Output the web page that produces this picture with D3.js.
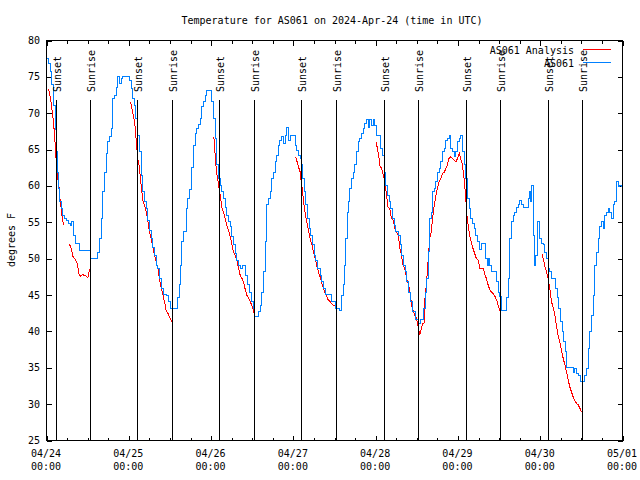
<!DOCTYPE html>
<html><head><meta charset="utf-8">
<script src="https://cdn.jsdelivr.net/npm/d3@7"></script>
<style>
body{margin:0;background:#fff}
svg text{font-family:"DejaVu Sans Mono","Liberation Mono",monospace;font-size:10px;fill:#000}
</style>
</head><body>
<svg id="chart" width="640" height="480"></svg>
<script>
const chartTitle = "Temperature for AS061 on 2024-Apr-24 (time in UTC)";
const yAxisLabel = "degrees F";
const seriesNames = ["AS061 Analysis", "AS061"];
const seriesColors = ["#ff0000", "#0080ff"];
const yTickValues = [25, 30, 35, 40, 45, 50, 55, 60, 65, 70, 75, 80];
const dayTickLabels = ["04/24", "04/25", "04/26", "04/27", "04/28", "04/29", "04/30", "05/01"];
const timeTickLabel = "00:00";
const sunsetTimes = ["2024-04-24 02:48", "2024-04-25 02:39", "2024-04-26 02:33", "2024-04-27 02:30", "2024-04-28 02:39", "2024-04-29 02:36", "2024-04-30 02:30"];
const sunriseTimes = ["2024-04-24 12:56", "2024-04-25 12:45", "2024-04-26 12:45", "2024-04-27 12:41", "2024-04-28 12:36", "2024-04-29 12:30", "2024-04-30 12:25"];

// AS061 observations: hours since 2024-04-24 00:00 UTC and temperature (F)
const obsHours = [0,0.6,1.2,1.6,2.1,2.5,2.8,3.1,3.5,3.9,4.3,4.8,5.2,5.7,6.4,7.0,7.4,7.8,8.4,9.1,9.7,12.1,12.7,14.2,14.8,15.5,15.9,16.4,16.9,17.4,17.9,18.4,18.9,19.3,19.8,20.3,20.8,21.3,21.8,22.3,23.7,24.2,24.7,25.2,25.7,26.1,26.6,27.1,27.6,28.1,28.6,29.1,29.5,30.0,30.5,31.0,31.5,32.0,32.5,32.9,33.4,34.1,34.9,35.6,36.2,37.8,38.3,38.8,39.1,39.5,40.0,40.7,41.2,41.8,42.3,42.9,43.4,43.8,44.3,44.8,45.3,45.8,46.3,46.8,47.7,48.2,48.7,49.2,49.7,50.2,50.7,51.1,51.6,52.1,52.6,53.1,53.6,54.1,54.5,55.0,55.5,56.0,56.5,57.2,57.7,58.1,58.6,59.1,59.7,60.4,60.7,61.3,61.8,62.3,62.8,63.3,63.8,64.3,64.7,65.2,65.7,66.2,66.7,67.2,67.7,68.1,68.6,69.1,69.6,70.1,70.6,71.1,72.0,72.5,73.0,73.5,74.0,74.5,74.8,75.2,75.6,76.1,76.6,77.1,77.6,78.2,78.6,79.1,79.8,80.3,80.8,81.5,82.7,83.2,84.2,85.6,86.0,86.5,86.9,87.3,87.7,88.1,88.5,89.0,89.4,89.9,90.4,90.9,91.4,91.9,92.4,92.8,93.3,93.8,94.3,94.8,95.3,95.8,96.2,97.0,97.5,98.0,98.5,99.0,99.5,99.9,100.4,100.9,101.4,101.9,102.6,103.2,103.6,104.1,104.6,105.1,105.6,106.1,106.7,107.5,108.5,109.2,109.9,110.4,110.9,111.4,111.8,112.2,112.6,113.1,113.5,114.0,114.5,115.0,115.5,116.0,116.5,116.9,117.4,117.9,118.4,118.9,119.4,119.9,120.4,120.8,121.3,121.8,122.3,122.8,123.3,123.8,124.2,124.7,125.2,125.7,126.4,126.9,127.6,128.1,128.5,128.9,129.3,129.8,130.8,131.3,131.8,132.2,132.6,132.8,133.7,134.2,134.7,135.1,135.6,136.1,136.6,137.1,137.6,138.1,138.5,139.0,140.0,140.5,141.0,141.3,141.6,141.9,142.3,142.7,143.1,143.6,143.9,144.4,144.9,145.3,145.8,146.3,146.8,147.3,148.0,148.5,148.9,149.4,149.9,150.4,150.9,151.3,151.7,152.4,153.1,153.6,154.1,154.6,155.1,155.7,156.5,157.0,157.5,158.0,158.5,159.0,159.4,159.9,160.4,160.9,161.4,161.9,162.4,162.8,163.3,163.8,164.3,164.8,165.3,165.8,166.2,166.7,167.2,167.7,168.0];
const obsTemps = [77.5,76.8,75.7,73.9,71.1,67.7,64.7,61.9,59.7,57.8,56.9,56.0,55.5,55.3,54.8,54.6,55.1,53.2,52.1,52.1,51.1,51.1,50.0,50.0,50.9,52.8,55.5,59.2,61.9,64.5,66.1,66.8,67.9,72.0,72.5,73.6,75.0,74.1,74.8,75.1,75.1,74.5,73.4,72.0,71.1,69.3,67.0,64.7,61.5,59.2,57.8,56.9,55.3,53.9,52.8,51.6,50.5,49.1,48.7,47.3,45.9,45.1,45.0,44.1,43.1,43.1,44.6,46.4,49.1,52.3,53.7,56.9,58.3,59.5,62.5,65.6,67.2,67.9,68.4,69.3,70.9,71.6,72.5,73.1,73.1,71.6,69.3,66.5,62.9,61.0,60.1,59.2,58.3,57.1,56.0,55.1,54.4,53.0,51.9,50.7,49.8,49.1,48.7,49.0,49.0,47.7,46.4,45.4,44.1,43.2,42.0,42.0,42.7,43.6,45.4,48.2,52.3,57.4,58.3,59.2,61.0,61.9,63.3,64.2,65.6,66.3,66.8,65.8,67.0,68.1,66.3,67.0,67.0,65.6,64.9,64.2,63.8,62.9,61.0,59.2,57.4,55.5,54.2,53.2,51.9,50.5,49.8,48.7,47.7,46.8,45.9,45.1,45.1,44.1,43.1,42.9,45.0,46.4,49.1,52.8,56.4,57.8,59.7,61.0,61.9,62.9,64.7,66.1,66.5,67.2,67.9,68.6,69.1,68.1,69.1,68.3,69.1,68.3,67.0,67.0,65.2,64.2,61.9,60.1,58.7,57.8,56.9,55.5,54.6,53.7,53.2,51.9,50.5,49.1,48.2,46.8,45.4,44.1,42.7,41.6,41.1,41.6,43.2,45.4,47.3,51.0,55.5,56.4,59.2,59.7,60.6,61.9,62.4,63.3,64.7,65.2,66.3,66.5,67.0,65.2,64.7,64.0,64.7,66.1,66.5,67.0,64.7,62.9,61.0,58.3,56.9,55.5,54.8,54.2,53.2,52.3,51.2,52.1,52.1,50.0,49.1,50.0,49.1,48.2,48.2,46.8,45.4,44.8,43.6,42.9,42.9,44.6,47.3,52.8,55.1,56.0,56.4,57.1,57.4,58.0,57.4,57.0,57.0,58.3,59.2,57.8,60.1,53.2,49.1,50.5,55.1,55.1,52.8,52.1,51.9,50.9,50.0,48.7,48.2,47.3,47.3,45.9,44.6,43.2,41.4,40.0,38.6,37.2,35.1,35.0,35.0,34.4,34.9,34.2,34.0,33.1,33.1,34.0,34.9,37.6,40.0,42.2,45.0,49.1,50.9,52.8,54.4,55.1,54.2,56.0,56.4,56.9,56.4,55.5,57.4,57.8,60.6,59.9,60.1,59.9,59.9];

// AS061 Analysis: hours since 2024-04-24 00:00 UTC and temperature (F); null = gap
const anaHours = [0.6,1.2,1.6,1.9,2.3,2.6,2.9,3.3,3.6,3.9,4.3,4.6,5.0,5.8,
  6.7,7.2,7.7,8.2,8.7,9.1,9.4,9.9,10.6,11.1,11.6,12.1,12.4,12.8,18.0,
  24.5,25.0,25.5,25.9,26.2,26.6,27.0,27.4,27.8,28.2,28.6,29.1,29.6,30.0,30.5,31.0,31.5,32.0,32.5,32.9,33.4,33.9,34.4,34.9,35.4,35.9,36.3,36.8,42.0,
  48.8,49.2,49.6,50.2,50.7,51.1,51.6,52.1,52.6,53.1,53.6,54.1,54.5,55.0,55.5,56.0,56.5,57.0,57.5,57.9,58.4,58.9,59.4,59.9,60.4,60.8,66.0,
  72.7,73.1,73.5,74.0,74.3,74.7,75.0,75.4,75.9,76.4,76.9,77.4,77.9,78.4,78.8,79.3,79.8,80.3,80.8,81.3,81.7,82.2,82.7,83.2,83.7,84.5,90.0,
  96.1,96.5,97.0,97.3,97.7,98.0,98.5,98.8,99.2,99.6,100.1,100.6,101.1,101.6,102.1,102.6,103.1,103.5,104.0,104.5,105.0,105.5,106.0,106.5,106.9,107.4,107.9,108.5,108.9,109.3,109.7,110.1,110.4,110.8,111.2,111.5,111.8,112.2,112.6,113.1,113.6,114.0,114.5,115.0,115.5,116.0,116.5,116.9,117.4,117.9,118.4,118.9,119.4,119.9,120.4,120.8,121.3,121.8,122.3,122.6,123.0,123.4,123.9,124.4,124.9,125.4,125.9,126.4,127.4,127.9,128.3,128.8,129.3,129.8,130.3,130.8,131.3,131.7,132.2,132.7,138.0,
  144.5,144.9,145.3,145.8,146.3,146.8,147.3,147.8,148.3,148.7,149.2,149.7,150.2,150.7,151.2,151.7,152.1,152.6,153.1,153.6,154.1,154.6,155.1,155.6,156.0,156.5];
const anaTemps = [73.4,72.0,70.4,69.3,67.4,65.2,62.9,61.0,60.1,58.3,56.9,55.5,54.6,null,
  52.0,51.4,50.3,50.0,49.6,49.1,48.0,47.6,47.8,47.7,47.6,47.4,48.2,48.7,null,
  71.6,70.4,69.3,67.9,66.1,63.8,62.9,61.0,59.2,57.8,57.4,56.4,55.1,53.7,52.8,51.6,50.5,49.6,48.7,47.3,46.1,45.2,44.1,42.9,42.5,42.0,41.6,41.1,null,
  66.8,64.2,61.9,60.1,58.7,57.1,56.4,55.5,54.6,53.9,53.0,51.9,50.9,50.5,49.8,48.7,47.7,47.3,46.8,45.9,45.0,44.6,44.1,43.6,42.9,41.6,null,
  64.0,63.3,62.6,61.9,60.6,59.2,57.8,56.4,55.1,53.9,52.8,51.9,50.9,50.0,49.1,48.2,47.5,46.6,45.9,45.2,44.8,44.3,44.1,43.8,43.6,43.6,null,
  66.1,65.2,63.8,62.6,62.6,61.9,61.0,60.1,58.7,57.1,56.9,55.5,55.3,54.2,53.7,53.2,51.4,50.5,49.1,48.7,47.3,46.6,45.4,43.6,42.9,42.2,41.8,40.4,39.5,40.4,41.1,41.1,44.6,46.4,49.1,51.0,52.8,53.7,55.5,57.4,58.7,59.7,60.6,61.0,61.7,61.9,62.4,62.9,63.8,64.0,63.8,63.5,63.3,63.8,64.5,63.8,62.9,61.0,58.3,56.0,54.6,53.2,52.3,51.4,50.7,50.0,49.8,48.7,48.7,47.7,47.3,46.4,45.7,45.4,45.2,44.8,44.3,43.6,42.9,42.6,null,
  50.7,50.0,49.1,48.2,47.3,45.9,44.1,43.2,42.2,40.9,39.5,38.6,37.4,36.3,35.4,34.4,33.5,32.4,31.7,31.0,30.5,30.1,29.9,29.4,29.0,28.9];

const startMs = Date.UTC(2024, 3, 24);
const hourToDate = h => new Date(startMs + h * 3600e3);
const parseT = d3.utcParse("%Y-%m-%d %H:%M");

const L = 46, R = 622, T = 40, B = 440;
const x = d3.scaleUtc().domain([new Date(startMs), new Date(Date.UTC(2024, 4, 1))]).range([L, R]);
const y = d3.scaleLinear().domain([25, 80]).range([B, T]);

const svg = d3.select("#chart");
svg.append("rect").attr("width", 640).attr("height", 480).attr("fill", "#fff");
const g = svg.append("g").attr("transform", "translate(0.5,0.5)");

// title
svg.append("text").attr("x", 332).attr("y", 24).attr("text-anchor", "middle").text(chartTitle);
// y label
svg.append("text").attr("transform", "translate(15,240) rotate(-90)").attr("text-anchor", "middle").text(yAxisLabel);

const dayTicks = d3.range(8).map(i => new Date(startMs + i * 86400e3));
const minorTicks = d3.range(1, 28).filter(i => i % 4 !== 0).map(i => new Date(startMs + i * 6 * 3600e3));

function styleAxis(sel) {
  sel.select(".domain").remove();
  sel.selectAll("line").attr("stroke", "#000").attr("shape-rendering", "crispEdges");
  sel.selectAll("text").remove();
}
g.append("g").attr("transform", `translate(0,${B})`).call(d3.axisBottom(x).tickValues(dayTicks).tickSize(-5).tickFormat("")).call(styleAxis);
g.append("g").attr("transform", `translate(0,${B})`).call(d3.axisBottom(x).tickValues(minorTicks).tickSize(-3).tickFormat("")).call(styleAxis);
g.append("g").attr("transform", `translate(0,${T})`).call(d3.axisTop(x).tickValues(dayTicks).tickSize(-5).tickFormat("")).call(styleAxis);
g.append("g").attr("transform", `translate(0,${T})`).call(d3.axisTop(x).tickValues(minorTicks).tickSize(-3).tickFormat("")).call(styleAxis);
g.append("g").attr("transform", `translate(${L},0)`).call(d3.axisLeft(y).tickValues(yTickValues).tickSize(-5).tickFormat("")).call(styleAxis);
g.append("g").attr("transform", `translate(${R},0)`).call(d3.axisRight(y).tickValues(yTickValues).tickSize(-5).tickFormat("")).call(styleAxis);

// y tick labels
svg.selectAll(".ylab").data(yTickValues).join("text")
  .attr("x", 40).attr("y", d => y(d) + 4).attr("text-anchor", "end").text(d => d);
// x tick labels
svg.selectAll(".xlab1").data(dayTicks).join("text")
  .attr("x", d => x(d)).attr("y", 457).attr("text-anchor", "middle").text((d, i) => dayTickLabels[i]);
svg.selectAll(".xlab2").data(dayTicks).join("text")
  .attr("x", d => x(d)).attr("y", 470).attr("text-anchor", "middle").text(timeTickLabel);

// data lines
const obs = obsHours.map((h, i) => ({t: hourToDate(h), v: obsTemps[i]}));
const ana = anaHours.map((h, i) => ({t: hourToDate(h), v: anaTemps[i]}));
const clip = svg.append("defs").append("clipPath").attr("id", "pc").append("rect").attr("x", L).attr("y", T).attr("width", R - L).attr("height", B - T);
const plot = g.append("g").attr("clip-path", "url(#pc)");
plot.append("path").datum(ana)
  .attr("d", d3.line().defined(d => d.v != null).x(d => x(d.t)).y(d => y(d.v)))
  .attr("fill", "none").attr("stroke", seriesColors[0]).attr("stroke-width", 1).attr("shape-rendering", "crispEdges");
plot.append("path").datum(obs)
  .attr("d", d3.line().curve(d3.curveStepAfter).x(d => x(d.t)).y(d => y(d.v)))
  .attr("fill", "none").attr("stroke", seriesColors[1]).attr("stroke-width", 1).attr("shape-rendering", "crispEdges");

// sunset / sunrise markers
const events = [];
sunsetTimes.forEach(s => events.push({t: parseT(s), label: "Sunset"}));
sunriseTimes.forEach(s => events.push({t: parseT(s), label: "Sunrise"}));
g.selectAll(".ev").data(events).join("line")
  .attr("x1", d => Math.round(x(d.t))).attr("x2", d => Math.round(x(d.t)))
  .attr("y1", 99).attr("y2", B).attr("stroke", "#000").attr("shape-rendering", "crispEdges");
svg.selectAll(".evl").data(events).join("text")
  .attr("transform", d => `translate(${Math.round(x(d.t)) + 5},92) rotate(-90)`)
  .attr("text-anchor", "start").text(d => d.label);

// frame
g.append("rect").attr("x", L).attr("y", T).attr("width", R - L).attr("height", B - T)
  .attr("fill", "none").attr("stroke", "#000").attr("shape-rendering", "crispEdges");

// legend
seriesNames.forEach((name, i) => {
  const ly = 49 + i * 13;
  svg.append("text").attr("x", 574).attr("y", ly + 5).attr("text-anchor", "end").text(name);
  g.append("line").attr("x1", 582).attr("x2", 610).attr("y1", ly).attr("y2", ly)
    .attr("stroke", seriesColors[i]).attr("shape-rendering", "crispEdges");
});
</script>
</body></html>
